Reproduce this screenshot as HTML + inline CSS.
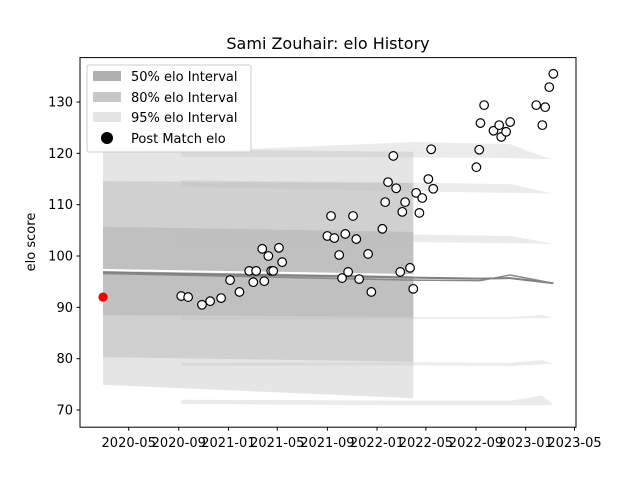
<!DOCTYPE html>
<html><head><meta charset="utf-8"><style>
body{margin:0;background:#fff}
svg{display:block;font-family:"DejaVu Sans","Liberation Sans",sans-serif}
</style></head><body>
<svg id="chart" width="640" height="480" viewBox="0 0 640 480">
<rect width="640" height="480" fill="#fff"/>
<text x="328" y="49" font-size="16" text-anchor="middle">Sami Zouhair: elo History</text>
<g id="bands"></g><g id="slivers"></g><g id="lines"></g><g id="points"></g>
<rect x="80" y="57.6" width="496" height="369.6" fill="none" stroke="#000" stroke-width="1"/>
<g id="yticks"></g><g id="xticks"></g>
<text transform="translate(35,242) rotate(-90)" font-size="13" text-anchor="middle">elo score</text>
<g>
<rect x="87" y="65" width="164" height="87" rx="2" fill="#fff" fill-opacity="0.8" stroke="#ccc"/>
<rect x="93" y="71" width="28" height="10" fill="#b0b0b0"/>
<text x="131" y="81" font-size="13">50% elo Interval</text>
<rect x="93" y="92" width="28" height="10" fill="#c8c8c8"/>
<text x="131" y="102" font-size="13">80% elo Interval</text>
<rect x="93" y="112" width="28" height="10" fill="#e4e4e4"/>
<text x="131" y="122" font-size="13">95% elo Interval</text>
<circle cx="107" cy="138" r="6" fill="#000"/>
<text x="131" y="143" font-size="13">Post Match elo</text>
</g>
</svg>
<script>
const boxDates=['2020-02-28','2022-03-31'];
const band95Lo=[74.9,72.3], band95Hi=[121.0,120.3];
const band80Lo=[80.3,79.4], band80Hi=[114.6,114.2];
const band50Lo=[88.5,88.1], band50Hi=[105.7,104.7];
const sliverDates=['2020-09-07','2022-03-31','2022-11-24','2023-02-11','2023-03-10'];
const sliverLo=[[119.3,119.2,119.1,118.9,118.9],[113.5,112.6,112.3,112.2,112.2],[103.0,102.7,102.5,102.4,102.4],[87.6,87.7,87.8,87.9,87.9],[78.6,78.7,78.6,78.9,79.0],[71.2,70.9,70.9,70.9,71.0]];
const sliverHi=[[120.3,122.2,121.8,119.4,118.9],[114.8,114.3,114.0,112.6,112.2],[103.8,104.2,103.9,102.8,102.4],[88.2,88.1,88.1,88.5,87.9],[79.2,79.3,79.2,79.7,79.0],[72.0,71.8,71.8,72.8,71.0]];
const meanDates=['2020-02-28','2022-03-31','2022-09-12','2022-11-24','2023-03-10'];
const meanVals=[96.8,95.8,95.6,95.7,94.7];
const meanVals2=[96.6,95.3,95.2,96.3,94.7];
const initDate='2020-02-28', initVal=92.0;
const pointDates=['2020-09-07','2020-09-24','2020-10-28','2020-11-17','2020-12-14','2021-01-05','2021-01-28','2021-02-21','2021-03-03','2021-03-10','2021-03-25','2021-03-30','2021-04-09','2021-04-16','2021-04-21','2021-05-05','2021-05-13','2021-09-01','2021-09-10','2021-09-18','2021-09-30','2021-10-07','2021-10-15','2021-10-22','2021-11-03','2021-11-11','2021-11-18','2021-12-10','2021-12-18','2022-01-14','2022-01-21','2022-01-28','2022-02-10','2022-02-17','2022-02-27','2022-03-04','2022-03-11','2022-03-23','2022-03-31','2022-04-07','2022-04-15','2022-04-22','2022-05-07','2022-05-14','2022-05-19','2022-09-02','2022-09-09','2022-09-12','2022-09-21','2022-10-14','2022-10-28','2022-11-02','2022-11-14','2022-11-24','2023-01-27','2023-02-11','2023-02-18','2023-02-28','2023-03-10'];
const pointVals=[92.2,92.0,90.5,91.2,91.8,95.3,93.0,97.1,94.9,97.1,101.4,95.1,100.0,97.1,97.1,101.6,98.8,103.9,107.8,103.5,100.2,95.7,104.3,96.9,107.8,103.3,95.5,100.4,93.0,105.3,110.5,114.4,119.5,113.2,96.9,108.6,110.5,97.7,93.6,112.3,108.4,111.3,115.0,120.8,113.1,117.3,120.7,125.9,129.4,124.4,125.5,123.2,124.2,126.1,129.4,125.5,129.0,132.9,135.5];
const yTicks=[70,80,90,100,110,120,130];
const xTicks=['2020-05','2020-09','2021-01','2021-05','2021-09','2022-01','2022-05','2022-09','2023-01','2023-05'];

const NS='http://www.w3.org/2000/svg';
const t0=Date.UTC(2020,4,1), t1=Date.UTC(2023,4,1);
function day(s){const p=s.split('-').map(Number);return Date.UTC(p[0],p[1]-1,p[2]||1);}
function X(s){return 128.7+(day(s)-t0)/(t1-t0)*445.8;}
function Y(v){return 410-(v-70)*5.133;}
function mk(tag,attrs,parent){const e=document.createElementNS(NS,tag);for(const k in attrs)e.setAttribute(k,attrs[k]);document.getElementById(parent).appendChild(e);return e;}
function bandPath(dates,lo,hi){let d='';dates.forEach((t,i)=>{d+=(i?'L':'M')+X(t)+','+Y(hi[i]);});for(let i=dates.length-1;i>=0;i--)d+='L'+X(dates[i])+','+Y(lo[i]);return d+'Z';}

let e;
e=mk('path',{d:bandPath(boxDates,band95Lo,band95Hi),fill:'#e5e5e5'},'bands');


e=mk('path',{d:bandPath(boxDates,band80Lo,band80Hi),fill:'#d0d0d0'},'bands');


e=mk('path',{d:bandPath(boxDates,band50Lo,band50Hi),fill:'#c0c0c0'},'bands');


sliverLo.forEach((lo,i)=>{
  const s=mk('path',{d:bandPath(sliverDates,lo,sliverHi[i]),fill:'#bdbdbd','fill-opacity':0.3},'slivers');
  
  
});
function linePts(dates,vals,off){return dates.map((t,i)=>X(t)+','+(Y(vals[i])+off)).join(' ');}
e=mk('polyline',{points:linePts(meanDates,meanVals,-2.5),fill:'none',stroke:'#fff','stroke-width':2},'lines');


e=mk('polyline',{points:linePts(meanDates,meanVals,0),fill:'none',stroke:'#808080','stroke-width':2},'lines');


e=mk('polyline',{points:linePts(meanDates,meanVals2,0),fill:'none',stroke:'#888','stroke-width':1.5},'lines');


e=mk('circle',{cx:X(initDate),cy:Y(initVal),r:4.2,fill:'#f00',stroke:'#c00','stroke-width':0.8},'points');


pointDates.forEach((t,i)=>{
  const c=mk('circle',{cx:X(t),cy:Y(pointVals[i]),r:4.3,fill:'#fff',stroke:'#000','stroke-width':1.2},'points');
  
  
});
yTicks.forEach(v=>{
  const l=mk('line',{x1:76.5,x2:80,y1:Y(v),y2:Y(v),stroke:'#000'},'yticks');
  
  
  const tx=mk('text',{x:73,y:Y(v)+4.5,'font-size':13,'text-anchor':'end'},'yticks');
  
  
  tx.textContent=v;
});
xTicks.forEach(s=>{
  const x=X(s+'-01');
  const l=mk('line',{x1:x,x2:x,y1:427.2,y2:430.7,stroke:'#000'},'xticks');
  
  
  const tx=mk('text',{x:x,y:447,'font-size':13,'text-anchor':'middle'},'xticks');
  
  
  tx.textContent=s;
});
</script>
</body></html>
